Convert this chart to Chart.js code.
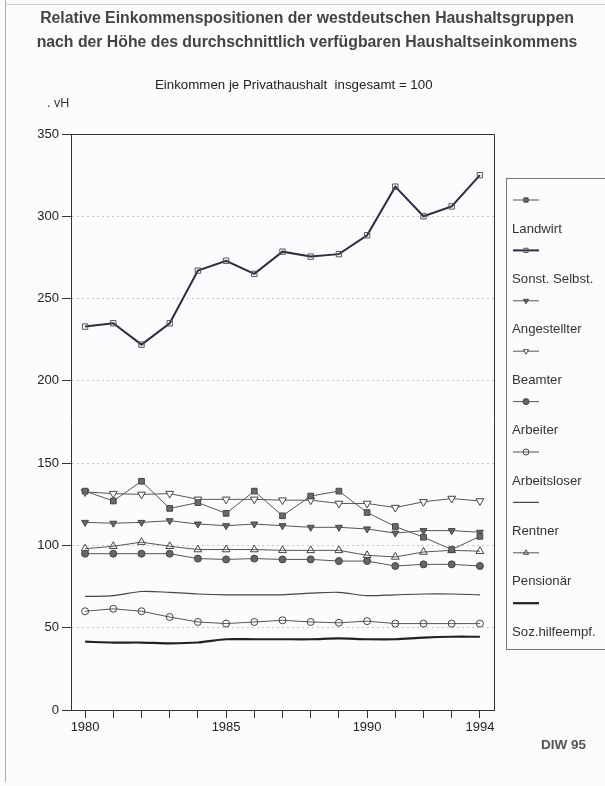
<!DOCTYPE html>
<html>
<head>
<meta charset="utf-8">
<script src="https://cdn.jsdelivr.net/npm/chart.js@4.4.1/dist/chart.umd.min.js"></script>
<style>
  body { margin: 0; background: #fbfcfd; font-family: "Liberation Sans", Arial, sans-serif; color: #333; }
  #wrap { position: relative; width: 605px; height: 786px; overflow: hidden; }
  #chart { position: absolute; left: 0; top: 0; }
  .txt { position: absolute; white-space: nowrap; }
  .title { left: 0; width: 614px; text-align: center; font-weight: bold; font-size: 15.8px; color: #444; }
  #frameLeft { position: absolute; left: 5px; top: 0; width: 1px; height: 782px; background: #aaa; }
  #frameTop { position: absolute; left: 5px; top: 4px; width: 600px; height: 1px; background: #ccc; }
</style>
</head>
<body>
<div id="wrap">
  <div id="frameLeft"></div>
  <div id="frameTop"></div>
  <canvas id="chart" width="605" height="786"></canvas>
  <div class="txt title" style="top:9px">Relative Einkommenspositionen der westdeutschen Haushaltsgruppen</div>
  <div class="txt title" style="top:33px">nach der Höhe des durchschnittlich verfügbaren Haushaltseinkommens</div>
  <div class="txt" style="left:155px; top:77px; font-size:13.3px; color:#222">Einkommen je Privathaushalt&nbsp; insgesamt = 100</div>
  <div class="txt" style="left:47px; top:96px; font-size:12.5px; color:#333">. vH</div>
  <div class="txt" style="left:541px; top:737px; font-size:13.5px; font-weight:bold; color:#555">DIW 95</div>
</div>
<script>
var years = ['1980', '1981', '1982', '1983', '1984', '1985', '1986', '1987',
             '1988', '1989', '1990', '1991', '1992', '1993', '1994'];
var shownYears = ['1980', '1985', '1990', '1994'];

var landwirt     = [133, 127, 139, 122.5, 126, 119.5, 133, 118, 130, 133, 120, 111.5, 105, 97.5, 105.5];
var sonstSelbst  = [233, 235, 222, 235, 267, 273, 265, 278.5, 275.5, 277, 288.5, 318, 300, 306, 325];
var angestellter = [114, 113.5, 114, 115, 113, 112, 113, 112, 111, 111, 110, 107.5, 109, 109, 108];
var beamter      = [132.5, 131.5, 131, 131.5, 128, 128, 128, 127.5, 127.5, 125.5, 125.5, 123, 126.5, 128.5, 127];
var arbeiter     = [95, 95, 95, 95, 92, 91.5, 92, 91.5, 91.5, 90.5, 90.5, 87.5, 88.5, 88.5, 87.5];
var arbeitsloser = [60, 61.5, 60, 56.5, 53.5, 52.5, 53.5, 54.5, 53.5, 53, 54, 52.5, 52.5, 52.5, 52.5];
var rentner      = [69, 69.5, 72, 71.5, 70.5, 70, 70, 70, 71, 71.5, 69.5, 70, 70.5, 70.5, 70];
var pensionaer   = [98, 99.5, 102, 99.5, 97.5, 97.5, 97.5, 97, 97, 97, 94, 93, 96, 97, 96.5];
var sozhilfe     = [41.5, 41, 41, 40.5, 41, 43, 43, 43, 43, 43.5, 43, 43, 44, 44.5, 44.5];

var yMin = 0, yMax = 350, yStep = 50;
var fontFamily = '"Liberation Sans", Arial, sans-serif';

function series(label, data, opts) {
    var ds = {
        label: label,
        data: data,
        borderColor: '#555',
        borderWidth: 1,
        pointStyle: 'circle',
        pointRadius: 0,
        pointBorderWidth: 1,
        pointBorderColor: '#444',
        pointBackgroundColor: '#666',
        tension: 0
    };
    for (var k in opts) ds[k] = opts[k];
    return ds;
}

var datasets = [
    series('Landwirt', landwirt, { pointStyle: 'rect', pointRadius: 4, pointBackgroundColor: '#6a6a6a' }),
    series('Sonst. Selbst.', sonstSelbst, { borderColor: '#2c2c44', borderWidth: 2, pointStyle: 'rect', pointRadius: 3.8, pointBackgroundColor: 'rgba(0,0,0,0)', pointBorderColor: '#555' }),
    series('Angestellter', angestellter, { pointStyle: 'triangle', pointRotation: 180, pointRadius: 4, pointBackgroundColor: '#666' }),
    series('Beamter', beamter, { pointStyle: 'triangle', pointRotation: 180, pointRadius: 4.5, pointBackgroundColor: '#fbfcfd' }),
    series('Arbeiter', arbeiter, { pointStyle: 'circle', pointRadius: 3.5, pointBackgroundColor: '#666' }),
    series('Arbeitsloser', arbeitsloser, { pointStyle: 'circle', pointRadius: 3.5, pointBackgroundColor: 'rgba(0,0,0,0)' }),
    series('Rentner', rentner, { borderColor: '#444', borderWidth: 1.2, tension: 0.3 }),
    series('Pensionär', pensionaer, { pointStyle: 'triangle', pointRadius: 4.5, pointBackgroundColor: 'rgba(0,0,0,0)' }),
    series('Soz.hilfeempf.', sozhilfe, { borderColor: '#222', borderWidth: 2.2, tension: 0.3 })
];

// frame round the plot and the legend box to the right, symbol above label
var framePlugin = {
    id: 'frameAndLegend',
    afterDraw: function (chart) {
        var ctx = chart.ctx;
        var a = chart.chartArea;
        ctx.save();
        ctx.strokeStyle = '#333';
        ctx.lineWidth = 1;
        ctx.beginPath();
        ctx.moveTo(a.left, a.top + 0.5);
        ctx.lineTo(a.right + 0.5, a.top + 0.5);
        ctx.lineTo(a.right + 0.5, a.bottom);
        ctx.stroke();

        ctx.strokeStyle = '#777';
        ctx.strokeRect(506.5, 178.5, 120, 471);

        ctx.font = '13.2px ' + fontFamily;
        ctx.textBaseline = 'middle';
        chart.data.datasets.forEach(function (ds, i) {
            var y = 200 + i * 50.4;
            ctx.strokeStyle = ds.borderColor;
            ctx.lineWidth = ds.borderWidth;
            ctx.beginPath();
            ctx.moveTo(513, y);
            ctx.lineTo(539, y);
            ctx.stroke();
            if (ds.pointRadius > 0) {
                ctx.fillStyle = ds.pointBackgroundColor;
                ctx.strokeStyle = ds.pointBorderColor;
                ctx.lineWidth = 1;
                Chart.helpers.drawPoint(ctx, {
                    pointStyle: ds.pointStyle,
                    rotation: ds.pointRotation || 0,
                    radius: 3,
                    borderWidth: 1
                }, 526, y);
            }
            ctx.fillStyle = '#333';
            ctx.fillText(ds.label, 512, y + 29);
        });
        ctx.restore();
    }
};

var ctx = document.getElementById('chart').getContext('2d');
var chart = new Chart(ctx, {
    type: 'line',
    data: { labels: years, datasets: datasets },
    plugins: [framePlugin],
    options: {
        responsive: false,
        animation: false,
        devicePixelRatio: 1,
        layout: { padding: { left: 0, top: 134, right: 111, bottom: 0 } },
        plugins: {
            legend: { display: false },
            title: { display: false },
            tooltip: { enabled: false }
        },
        scales: {
            x: {
                type: 'category',
                offset: true,
                afterFit: function (scale) { scale.height = 76; },
                grid: {
                    drawOnChartArea: false,
                    offset: false,
                    tickLength: 8,
                    tickColor: '#333'
                },
                border: { color: '#333', width: 1 },
                ticks: {
                    autoSkip: false,
                    maxRotation: 0,
                    padding: 2,
                    color: '#222',
                    font: { family: fontFamily, size: 13 },
                    callback: function (v, i) {
                        var y = years[i];
                        return shownYears.indexOf(y) >= 0 ? y : '';
                    }
                }
            },
            y: {
                min: yMin,
                max: yMax,
                afterFit: function (scale) { scale.width = 71; },
                grid: {
                    color: function (c) {
                        var v = c.tick ? c.tick.value : 0;
                        return (v === yMin || v === yMax) ? 'rgba(0,0,0,0)' : '#c4c8cc';
                    },
                    tickColor: '#333',
                    tickLength: 9,
                    lineWidth: 1
                },
                border: { color: '#333', width: 1, dash: [2, 3] },
                ticks: {
                    stepSize: yStep,
                    padding: 3,
                    color: '#222',
                    font: { family: fontFamily, size: 13 }
                }
            }
        }
    }
});
</script>
</body>
</html>
